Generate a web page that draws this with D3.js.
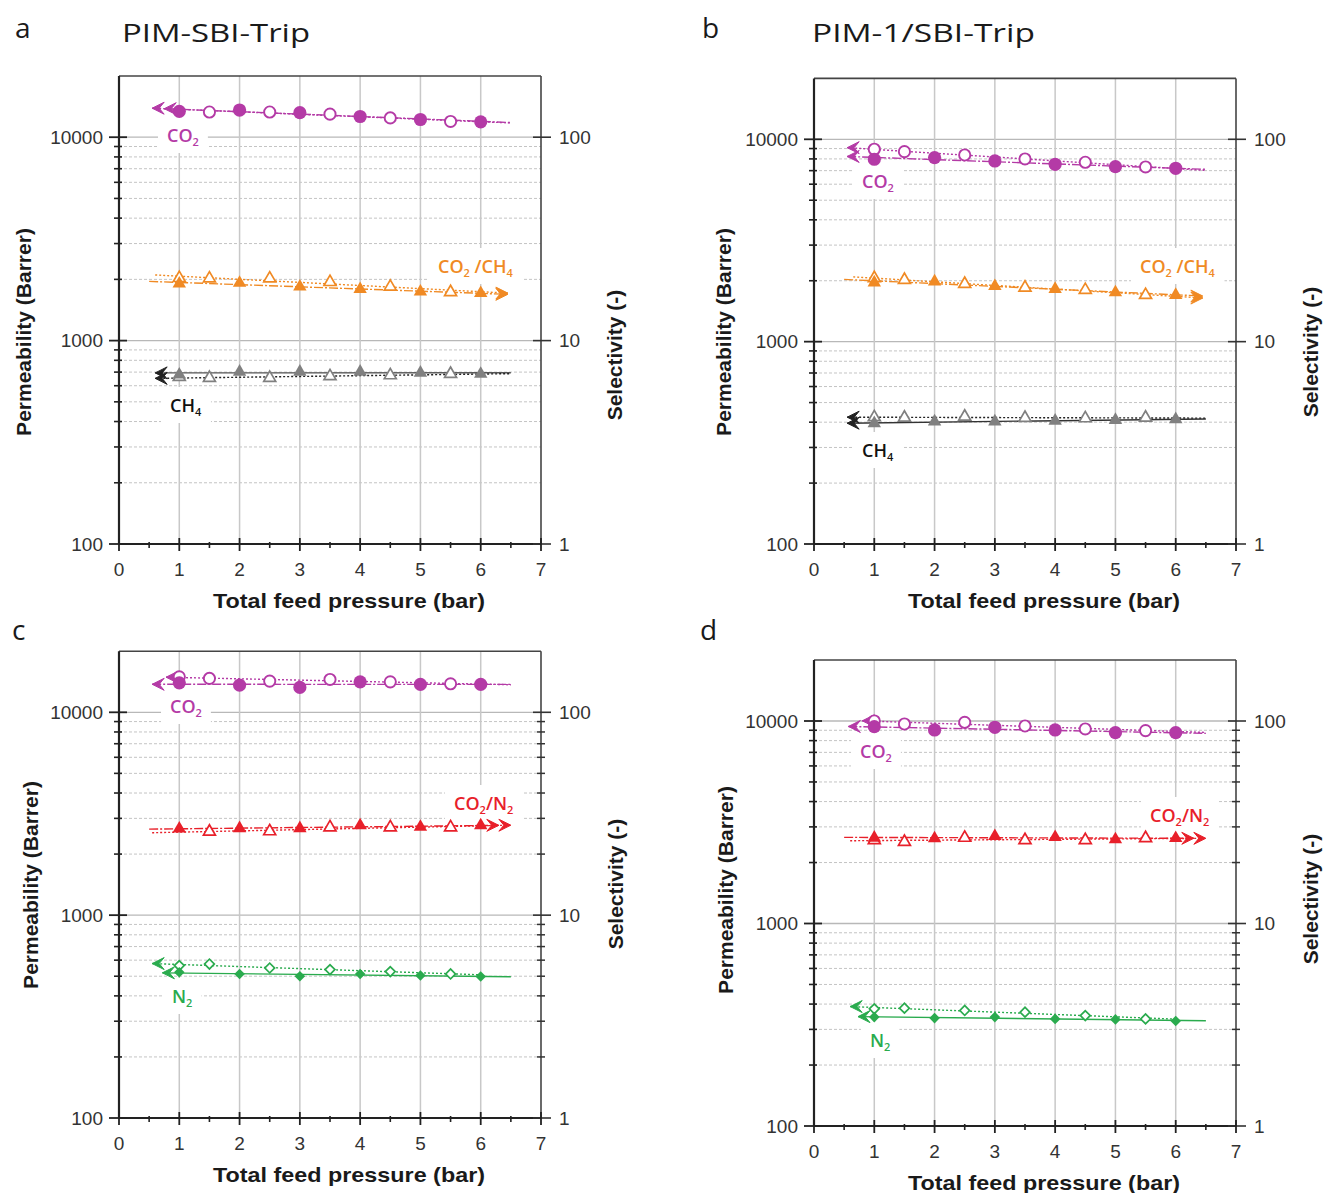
<!DOCTYPE html>
<html><head><meta charset="utf-8">
<script src="https://cdn.jsdelivr.net/npm/d3@7"></script>
<style>body{margin:0;background:#fff} svg{display:block}</style>
</head><body>
<svg id="chart" width="1325" height="1193"></svg>
<script>
// ---------------- data ----------------
const pressureFilled = [1, 2, 3, 4, 5, 6];
const pressureOpen = [1, 1.5, 2.5, 3.5, 4.5, 5.5];
const pressureOpenNo1 = [1.5, 2.5, 3.5, 4.5, 5.5];
const xTicks = [0, 1, 2, 3, 4, 5, 6, 7];
const permTicks = [100, 1000, 10000];
const selTicks = [1, 10, 100];
const permTickLabels = ["100", "1000", "10000"];
const selTickLabels = ["1", "10", "100"];
const permMinor = [200,300,400,500,600,700,800,900,2000,3000,4000,5000,6000,7000,8000,9000];

// a: PIM-SBI-Trip (CO2/CH4)
const aCO2Filled = [13400, 13600, 13200, 12640, 12220, 11900];
const aCO2Open   = [13300, 13300, 12980, 12440, 11950];          // 1.5..5.5
const aSelFilled = [19.05, 19.2, 18.4, 17.9, 17.4, 17.1];
const aSelOpen   = [20.3, 20.2, 20.2, 19.4, 18.4, 17.3];         // 1..5.5
const aCH4Filled = [680, 702, 702, 702, 694, 686];
const aCH4Open   = [663, 655, 655, 668, 675, 686];               // 1..5.5

// b: PIM-1/SBI-Trip (CO2/CH4)
const bCO2Filled = [7970, 8120, 7815, 7525, 7325, 7190];
const bCO2Open   = [8930, 8690, 8365, 7995, 7700, 7300];
const bSelFilled = [19.6, 19.8, 18.8, 18.2, 17.5, 17.0];
const bSelOpen   = [20.6, 20.2, 19.3, 18.5, 18.0, 17.0];
const bCH4Filled = [395, 403, 403, 406, 410, 413];
const bCH4Open   = [423, 421, 426, 420, 418, 421];

// c: PIM-SBI-Trip (CO2/N2)
const cCO2Filled = [13970, 13620, 13270, 14130, 13720, 13720];
const cCO2Open   = [14960, 14690, 14250, 14520, 14130, 13820];
const cSelFilled = [26.7, 26.8, 26.8, 27.7, 27.2, 27.7];
const cSelOpen   = [25.8, 25.9, 27.1, 27.1, 27.1];               // 1.5..5.5
const cN2Filled  = [523, 513, 500, 513, 504, 498];
const cN2Open    = [564, 574, 549, 539, 527, 513];

// d: PIM-1/SBI-Trip (CO2/N2)
const dCO2Filled = [9375, 9030, 9310, 9030, 8760, 8760];
const dCO2Open   = [10000, 9666, 9850, 9450, 9135, 8965];
const dSelFilled = [26.5, 26.3, 27.0, 26.7, 26.0, 26.4];
const dSelOpen   = [25.8, 25.3, 26.5, 25.8, 25.8, 26.4];
const dN2Filled  = [345, 341, 345, 338, 336, 330];
const dN2Open    = [379, 382, 372, 365, 351, 338];

// ---------------- styles ----------------
const MAG = '#b43aa6', ORG = '#f08a24', GRY = '#808080', RED = '#e8202a', GRN = '#2aab4e';
const AXF = '"Liberation Sans", Arial, sans-serif';
const LBF = '"Open Sans", sans-serif';

const panels = [
  { letter:'a', title:'PIM-SBI-Trip', titleLen:188, letterPos:[15,38], titlePos:[122,42],
    left:119, right:541, y100:544, y10k:137.2, rightMinor:false,
    ylab:{x:31, y:332}, slab:{x:622, y:355},
    series:[
      {axis:'perm', color:MAG, shape:'circle', fx:pressureFilled, fy:aCO2Filled, ox:pressureOpenNo1, oy:aCO2Open, fs:0.55, os:0.75, fe:6.5, oe:6.5, fLine:MAG, oLine:MAG, fDash:'9,2,2,2', oDash:'2,2', oArrow:false},
      {axis:'sel', color:ORG, shape:'triangle', fx:pressureFilled, fy:aSelFilled, ox:pressureOpen, oy:aSelOpen, fs:0.5, os:0.6, fe:6.45, oe:6.45, fLine:ORG, oLine:ORG, fDash:'9,2,2,2', oDash:'2,2'},
      {axis:'perm', color:GRY, shape:'triangle', fx:pressureFilled, fy:aCH4Filled, ox:pressureOpen, oy:aCH4Open, fs:0.6, os:0.6, fe:6.5, oe:6.5, fLine:'#555', oLine:'#222', fDash:null, oDash:'2,2'}
    ],
    labels:[
      {x:167, y:142, color:MAG, parts:[['CO',0],['2',1]]},
      {x:438, y:273, color:ORG, parts:[['CO',0],['2',1],[' /CH',0],['4',1]]},
      {x:170, y:412, color:'#111', parts:[['CH',0],['4',1]]}
    ]},
  { letter:'b', title:'PIM-1/SBI-Trip', titleLen:223, letterPos:[702,38], titlePos:[812,42],
    left:814, right:1236, y100:544, y10k:139.3, rightMinor:false,
    ylab:{x:731, y:332}, slab:{x:1318, y:352},
    series:[
      {axis:'perm', color:MAG, shape:'circle', fx:pressureFilled, fy:bCO2Filled, ox:pressureOpen, oy:bCO2Open, fs:0.55, os:0.55, fe:6.5, oe:6.5, fLine:MAG, oLine:MAG, fDash:'9,2,2,2', oDash:'2,2'},
      {axis:'sel', color:ORG, shape:'triangle', fx:pressureFilled, fy:bSelFilled, ox:pressureOpen, oy:bSelOpen, fs:0.5, os:0.65, fe:6.45, oe:6.45, fLine:ORG, oLine:ORG, fDash:'9,2,2,2', oDash:'2,2'},
      {axis:'perm', color:GRY, shape:'triangle', fx:pressureFilled, fy:bCH4Filled, ox:pressureOpen, oy:bCH4Open, fs:0.55, os:0.55, fe:6.5, oe:6.5, fLine:'#333', oLine:'#222', fDash:null, oDash:'2,2'}
    ],
    labels:[
      {x:862, y:188, color:MAG, parts:[['CO',0],['2',1]]},
      {x:1140, y:273, color:ORG, parts:[['CO',0],['2',1],[' /CH',0],['4',1]]},
      {x:862, y:457, color:'#111', parts:[['CH',0],['4',1]]}
    ]},
  { letter:'c', title:'', letterPos:[12,640],
    left:119, right:541, y100:1118, y10k:712.3, rightMinor:true,
    ylab:{x:38, y:885}, slab:{x:623, y:884},
    series:[
      {axis:'perm', color:MAG, shape:'circle', fx:pressureFilled, fy:cCO2Filled, ox:pressureOpen, oy:cCO2Open, fs:0.55, os:0.78, fe:6.5, oe:6.5, fLine:MAG, oLine:MAG, fDash:'9,2,2,2', oDash:'2,2'},
      {axis:'sel', color:RED, shape:'triangle', fx:pressureFilled, fy:cSelFilled, ox:pressureOpenNo1, oy:cSelOpen, fs:0.5, os:0.55, fe:6.3, oe:6.5, fLine:RED, oLine:RED, fDash:'9,2,2,2', oDash:'2,2'},
      {axis:'perm', color:GRN, shape:'diamond', fx:pressureFilled, fy:cN2Filled, ox:pressureOpen, oy:cN2Open, fs:0.72, os:0.55, fe:6.5, oe:6.0, fLine:GRN, oLine:GRN, fDash:null, oDash:'2,2'}
    ],
    labels:[
      {x:170, y:713, color:MAG, parts:[['CO',0],['2',1]]},
      {x:454, y:810, color:RED, parts:[['CO',0],['2',1],['/N',0],['2',1]]},
      {x:172, y:1003, color:GRN, parts:[['N',0],['2',1]]}
    ]},
  { letter:'d', title:'', letterPos:[700,640],
    left:814, right:1236, y100:1126, y10k:721, rightMinor:true,
    ylab:{x:733, y:890}, slab:{x:1318, y:899},
    series:[
      {axis:'perm', color:MAG, shape:'circle', fx:pressureFilled, fy:dCO2Filled, ox:pressureOpen, oy:dCO2Open, fs:0.57, os:0.8, fe:6.5, oe:6.5, fLine:MAG, oLine:MAG, fDash:'9,2,2,2', oDash:'2,2'},
      {axis:'sel', color:RED, shape:'triangle', fx:pressureFilled, fy:dSelFilled, ox:pressureOpen, oy:dSelOpen, fs:0.5, os:0.6, fe:6.3, oe:6.5, fLine:RED, oLine:RED, fDash:'9,2,2,2', oDash:'2,2'},
      {axis:'perm', color:GRN, shape:'diamond', fx:pressureFilled, fy:dN2Filled, ox:pressureOpen, oy:dN2Open, fs:0.73, os:0.6, fe:6.5, oe:6.0, fLine:GRN, oLine:GRN, fDash:null, oDash:'2,2'}
    ],
    labels:[
      {x:860, y:758, color:MAG, parts:[['CO',0],['2',1]]},
      {x:1150, y:822, color:RED, parts:[['CO',0],['2',1],['/N',0],['2',1]]},
      {x:870, y:1047, color:GRN, parts:[['N',0],['2',1]]}
    ]}
];

const svg = d3.select('#chart');

function fit(xs, ys) {
  const n = xs.length;
  const ly = ys.map(v => Math.log10(v));
  const mx = d3.mean(xs), my = d3.mean(ly);
  let sxy = 0, sxx = 0;
  for (let i = 0; i < n; i++) { sxy += (xs[i]-mx)*(ly[i]-my); sxx += (xs[i]-mx)**2; }
  const b = sxy / sxx, a = my - b*mx;
  return x => Math.pow(10, a + b*x);
}

function addLabel(g, L) {
  const t = g.append('text').attr('x', L.x).attr('y', L.y)
    .attr('font-family', LBF).attr('font-size', 18).attr('font-weight', 600).attr('fill', L.color);
  let sub = false;
  L.parts.forEach(([s, isSub]) => {
    const ts = t.append('tspan').text(s);
    if (isSub && !sub) { ts.attr('font-size', 11).attr('dy', 4); sub = true; }
    else if (!isSub && sub) { ts.attr('dy', -4); sub = false; }
  });
  return t;
}

panels.forEach(P => {
  const g = svg.append('g');
  const x = d3.scaleLinear().domain([0, 7]).range([P.left, P.right]);
  const yP = d3.scaleLog().domain([100, 10000]).range([P.y100, P.y10k]);
  const yS = d3.scaleLog().domain([1, 100]).range([P.y100, P.y10k]);
  const top = yP(20000), bottom = P.y100;

  // grid
  const grid = g.append('g');
  grid.selectAll('.hmin').data(permMinor).join('line')
    .attr('x1', P.left).attr('x2', P.right).attr('y1', d => yP(d)).attr('y2', d => yP(d))
    .attr('stroke', '#c4c4c4').attr('stroke-width', 1).attr('stroke-dasharray', '3,2');
  grid.selectAll('.hmaj').data([1000, 10000]).join('line')
    .attr('x1', P.left).attr('x2', P.right).attr('y1', d => yP(d)).attr('y2', d => yP(d))
    .attr('stroke', '#b8b8b8').attr('stroke-width', 1.3);
  grid.selectAll('.vg').data([1,2,3,4,5,6]).join('line')
    .attr('x1', d => x(d)).attr('x2', d => x(d)).attr('y1', top).attr('y2', bottom)
    .attr('stroke', '#c8c8c8').attr('stroke-width', 1.5);

  // label boxes + text
  const labG = g.append('g');
  const boxG = labG.append('g');
  const texts = P.labels.map(L => addLabel(labG, L));
  texts.forEach(t => {
    const bb = t.node().getBBox();
    boxG.append('rect').attr('x', bb.x - 9).attr('y', bb.y - 6)
      .attr('width', bb.width + 18).attr('height', bb.height + 10).attr('fill', '#fff');
  });

  // series
  const dataG = g.append('g');
  P.series.forEach(S => {
    const ys = S.axis === 'perm' ? yP : yS;
    const lines = [
      {xs: S.fx, vs: S.fy, st: S.fs, en: S.fe, col: S.fLine, dash: S.fDash},
      {xs: S.ox, vs: S.oy, st: S.os, en: S.oe, col: S.oLine, dash: S.oDash}
    ];
    lines.forEach(Ln => {
      const f = fit(Ln.xs, Ln.vs);
      const x1 = x(Ln.st), y1 = ys(f(Ln.st)), x2 = x(Ln.en), y2 = ys(f(Ln.en));
      dataG.append('line').attr('x1', x1).attr('y1', y1).attr('x2', x2).attr('y2', y2)
        .attr('stroke', Ln.col).attr('stroke-width', 1.4)
        .attr('stroke-dasharray', Ln.dash);
      let px, py, dir;
      if (S.axis === 'perm') { px = x1; py = y1; dir = 1; } else { px = x2; py = y2; dir = -1; }
      dataG.append('path')
        .attr('d', `M${px},${py} L${px+dir*12},${py-6} L${px+dir*7},${py} L${px+dir*12},${py+6} Z`)
        .attr('fill', Ln.col === '#222' || Ln.col === '#333' || Ln.col === '#555' ? '#222' : Ln.col)
        .attr('stroke', Ln.col === '#222' || Ln.col === '#333' || Ln.col === '#555' ? '#222' : Ln.col)
        .attr('stroke-width', 1);
    });
    const sym = (filled) => {
      if (S.shape === 'circle') return null;
      if (S.shape === 'triangle') return d3.symbol(d3.symbolTriangle, filled ? 78 : 62)();
      return d3.symbol(d3.symbolSquare, filled ? 56 : 48)();
    };
    const rot = S.shape === 'diamond' ? ' rotate(45)' : '';
    // open markers
    S.ox.forEach((xv, i) => {
      const cx = x(xv), cy = ys(S.oy[i]);
      if (S.shape === 'circle') {
        dataG.append('circle').attr('cx', cx).attr('cy', cy).attr('r', 5.6)
          .attr('fill', '#fff').attr('stroke', S.color).attr('stroke-width', 1.9);
      } else {
        dataG.append('path').attr('d', sym(false)).attr('transform', `translate(${cx},${cy})${rot}`)
          .attr('fill', '#fff').attr('stroke', S.color).attr('stroke-width', 1.7);
      }
    });
    S.fx.forEach((xv, i) => {
      const cx = x(xv), cy = ys(S.fy[i]);
      if (S.shape === 'circle') {
        dataG.append('circle').attr('cx', cx).attr('cy', cy).attr('r', 6.6).attr('fill', S.color);
      } else {
        dataG.append('path').attr('d', sym(true)).attr('transform', `translate(${cx},${cy})${rot}`)
          .attr('fill', S.color);
      }
    });
  });
  labG.raise();
  boxG.lower();
  labG.lower(); grid.lower();

  // frame
  const fr = g.append('g');
  fr.append('line').attr('x1', P.left).attr('x2', P.right).attr('y1', top).attr('y2', top).attr('stroke', '#444').attr('stroke-width', 1.6);
  fr.append('line').attr('x1', P.right).attr('x2', P.right).attr('y1', top).attr('y2', bottom).attr('stroke', '#444').attr('stroke-width', 1.6);
  fr.append('line').attr('x1', P.left).attr('x2', P.left).attr('y1', top).attr('y2', bottom).attr('stroke', '#222').attr('stroke-width', 2.2);
  fr.append('line').attr('x1', P.left).attr('x2', P.right).attr('y1', bottom).attr('y2', bottom).attr('stroke', '#222').attr('stroke-width', 2.2);

  // left axis ticks
  fr.selectAll('.lmaj').data(permTicks).join('line')
    .attr('x1', P.left - 10).attr('x2', P.left + 8).attr('y1', d => yP(d)).attr('y2', d => yP(d))
    .attr('stroke', '#222').attr('stroke-width', 1.8);
  fr.selectAll('.lmin').data(permMinor).join('line')
    .attr('x1', P.left - 5).attr('x2', P.left + 3).attr('y1', d => yP(d)).attr('y2', d => yP(d))
    .attr('stroke', '#222').attr('stroke-width', 1.6);
  fr.selectAll('.rmaj').data(selTicks).join('line')
    .attr('x1', P.right - 8).attr('x2', P.right + 10).attr('y1', d => yS(d)).attr('y2', d => yS(d))
    .attr('stroke', '#333').attr('stroke-width', 1.6);
  if (P.rightMinor) {
    fr.selectAll('.rmin').data(permMinor).join('line')
      .attr('x1', P.right - 4).attr('x2', P.right + 4).attr('y1', d => yP(d)).attr('y2', d => yP(d))
      .attr('stroke', '#333').attr('stroke-width', 1.5);
  }
  fr.selectAll('.xmaj').data(xTicks).join('line')
    .attr('x1', d => x(d)).attr('x2', d => x(d)).attr('y1', bottom - 6).attr('y2', bottom + 7)
    .attr('stroke', '#222').attr('stroke-width', 1.8);
  fr.selectAll('.xmin').data(xTicks.slice(0, 7).map(d => d + 0.5)).join('line')
    .attr('x1', d => x(d)).attr('x2', d => x(d)).attr('y1', bottom - 2).attr('y2', bottom + 4)
    .attr('stroke', '#222').attr('stroke-width', 1.6);

  // tick labels
  fr.selectAll('.ltl').data(permTicks).join('text')
    .attr('x', P.left - 16).attr('y', d => yP(d)).attr('dy', '0.36em').attr('text-anchor', 'end')
    .attr('font-family', AXF).attr('font-size', 19).attr('fill', '#333')
    .text((d, i) => permTickLabels[i]);
  fr.selectAll('.rtl').data(selTicks).join('text')
    .attr('x', P.right + 18).attr('y', d => yS(d)).attr('dy', '0.36em').attr('text-anchor', 'start')
    .attr('font-family', AXF).attr('font-size', 19).attr('fill', '#333')
    .text((d, i) => selTickLabels[i]);
  fr.selectAll('.xtl').data(xTicks).join('text')
    .attr('x', d => x(d)).attr('y', bottom + 32).attr('text-anchor', 'middle')
    .attr('font-family', AXF).attr('font-size', 19).attr('fill', '#333')
    .text(d => d);

  // axis titles
  fr.append('text').attr('x', (P.left + P.right) / 2 + 19).attr('y', bottom + 64)
    .attr('text-anchor', 'middle').attr('font-family', AXF).attr('font-weight', 'bold')
    .attr('font-size', 21).attr('fill', '#1a1a1a')
    .attr('textLength', 272).attr('lengthAdjust', 'spacingAndGlyphs')
    .text('Total feed pressure (bar)');
  fr.append('text').attr('transform', `translate(${P.ylab.x},${P.ylab.y}) rotate(-90)`)
    .attr('text-anchor', 'middle').attr('font-family', AXF).attr('font-weight', 'bold')
    .attr('font-size', 21).attr('fill', '#1a1a1a')
    .text('Permeability (Barrer)');
  fr.append('text').attr('transform', `translate(${P.slab.x},${P.slab.y}) rotate(-90)`)
    .attr('text-anchor', 'middle').attr('font-family', AXF).attr('font-weight', 'bold')
    .attr('font-size', 21).attr('fill', '#1a1a1a')
    .text('Selectivity (-)');

  // panel letter + title
  svg.append('text').attr('x', P.letterPos[0]).attr('y', P.letterPos[1])
    .attr('font-family', LBF).attr('font-size', 28).attr('fill', '#1a1a1a').text(P.letter);
  if (P.title) {
    svg.append('text').attr('x', P.titlePos[0]).attr('y', P.titlePos[1])
      .attr('font-family', LBF).attr('font-size', 25).attr('fill', '#1a1a1a')
      .attr('textLength', P.titleLen).attr('lengthAdjust', 'spacingAndGlyphs')
      .text(P.title);
  }
});
</script>
</body></html>
